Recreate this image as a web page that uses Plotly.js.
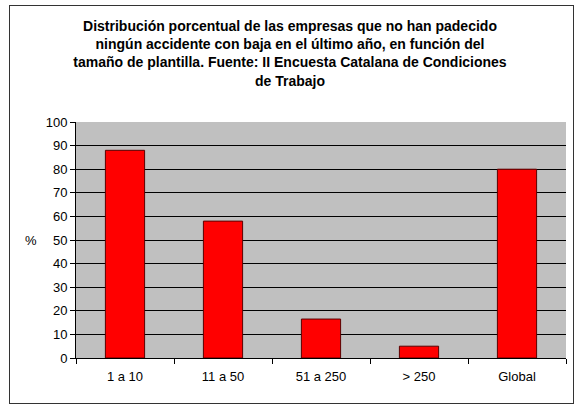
<!DOCTYPE html>
<html><head><meta charset="utf-8">
<script src="https://cdn.plot.ly/plotly-3.0.1.min.js"></script>
<style>
html,body{margin:0;padding:0;background:#fff;}
#wrap{position:relative;width:580px;height:416px;}
#chart{position:absolute;left:0;top:0;width:580px;height:416px;}
#frame{position:absolute;left:9px;top:5px;width:563px;height:397px;border:1px solid #333;pointer-events:none;}
</style>
</head><body>
<div id="wrap"><div id="chart"></div><div id="frame"></div></div>
<script>
const categories = ['1 a 10', '11 a 50', '51 a 250', '> 250', 'Global'];
const values = [88, 58, 16.5, 5, 80];
const yTicks = [0,10,20,30,40,50,60,70,80,90,100];
const titleText = 'Distribución porcentual de las empresas que no han padecido<br>ningún accidente con baja en el último año, en función del<br>tamaño de plantilla. Fuente: II Encuesta Catalana de Condiciones<br>de Trabajo';

const trace = {
  type: 'bar', x: categories, y: values,
  marker: {color: '#FF0000', line: {color: '#5a0000', width: 1}},
  hoverinfo: 'x+y'
};
const font = {family: 'Liberation Sans, Arial, sans-serif', color: '#000', size: 13};
const layout = {
  width: 580, height: 416,
  margin: {l: 76, r: 14, t: 122, b: 58},
  paper_bgcolor: '#fff', plot_bgcolor: '#C0C0C0',
  font: font,
  showlegend: false,
  bargap: 0.6,
  title: {text: '<b>' + titleText + '</b>', x: 0.5, xanchor: 'center',
          yref: 'container', y: 1 - 31/416, yanchor: 'middle',
          font: {family: 'Liberation Sans, Arial, sans-serif', size: 14, color: '#000'}},
  xaxis: {type: 'category', showline: true, linecolor: '#000', linewidth: 1,
          ticks: 'outside', tickson: 'boundaries', ticklen: 5, tickcolor: '#000',
          ticklabelstandoff: 6,
          showgrid: false, tickfont: font},
  yaxis: {range: [0, 100], tickvals: yTicks, showline: true, linecolor: '#000', linewidth: 1,
          ticks: 'outside', ticklen: 5, tickcolor: '#000',
          showgrid: true, gridcolor: '#000', gridwidth: 1, zeroline: false, tickfont: font},
  annotations: [{text: '%', xref: 'paper', yref: 'paper', x: -0.092, y: 0.5,
                 xanchor: 'center', yanchor: 'middle', showarrow: false, font: font}]
};
Plotly.newPlot('chart', [trace], layout, {displayModeBar: false, staticPlot: true});
</script>
</body></html>
